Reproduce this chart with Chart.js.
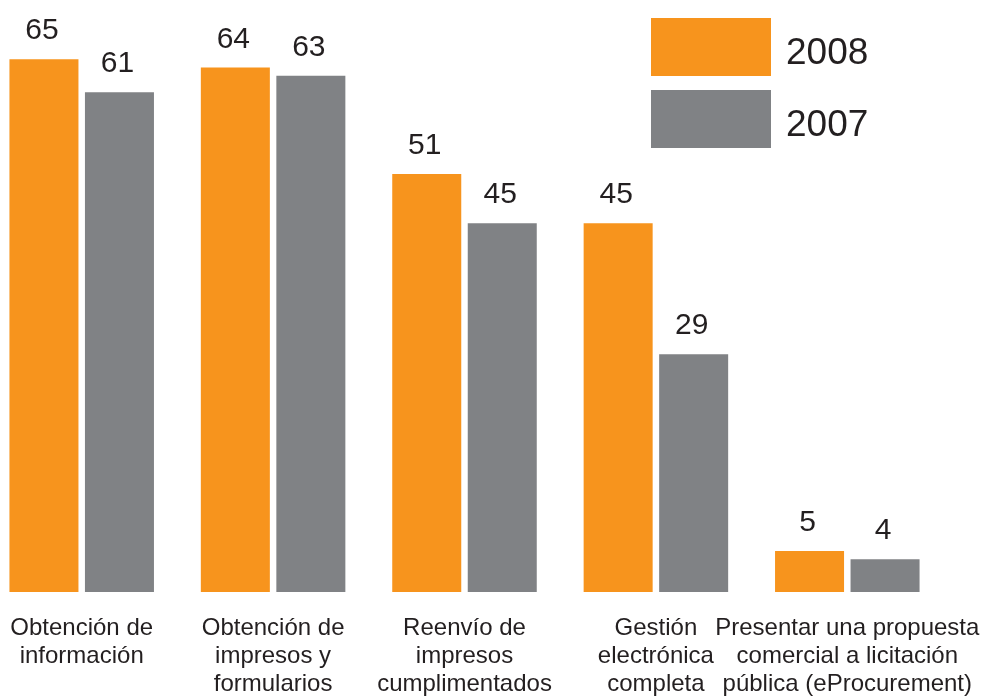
<!DOCTYPE html>
<html>
<head>
<meta charset="utf-8">
<script src="https://cdn.jsdelivr.net/npm/chart.js@4.4.1/dist/chart.umd.min.js"></script>
<style>
  html, body { margin: 0; padding: 0; background: #fff; overflow: hidden; }
  #wrap { position: absolute; left: -14px; top: 0; width: 997px; height: 697px; }
</style>
</head>
<body>
<div id="wrap"><canvas id="mycanvas"></canvas></div>
<script>
var categories = [
  ['Obtención de', 'información'],
  ['Obtención de', 'impresos y', 'formularios'],
  ['Reenvío de', 'impresos', 'cumplimentados'],
  ['Gestión', 'electrónica', 'completa'],
  ['Presentar una propuesta', 'comercial a licitación', 'pública (eProcurement)']
];
var seriesNames = ['2008', '2007'];
var values2008 = [65, 64, 51, 45, 5];
var values2007 = [61, 63, 45, 29, 4];

var orange = '#F7941D';
var grey = '#808285';
var textColor = '#231F20';
var fontFam = '"Liberation Sans", Arial, Helvetica, sans-serif';

// numbers above the bars
var valueLabels = {
  id: 'valueLabels',
  afterDatasetsDraw: function(chart) {
    var ctx = chart.ctx;
    ctx.save();
    ctx.font = '30px ' + fontFam;
    ctx.fillStyle = textColor;
    ctx.textAlign = 'center';
    ctx.textBaseline = 'alphabetic';
    chart.data.datasets.forEach(function(ds, i) {
      chart.getDatasetMeta(i).data.forEach(function(bar, j) {
        ctx.fillText(ds.data[j], bar.x - 2, bar.y - 20);
      });
    });
    ctx.restore();
  }
};

// big square legend at top right
var boxLegend = {
  id: 'boxLegend',
  afterDraw: function(chart) {
    var ctx = chart.ctx;
    ctx.save();
    chart.data.datasets.forEach(function(ds, i) {
      var top = 18 + i * 72;
      ctx.fillStyle = ds.backgroundColor;
      ctx.fillRect(665, top, 120, 58);
      ctx.fillStyle = textColor;
      ctx.font = '37px ' + fontFam;
      ctx.textAlign = 'left';
      ctx.textBaseline = 'alphabetic';
      ctx.fillText(ds.label, 800, top + 46);
    });
    ctx.restore();
  }
};

var chartdata = {
  labels: categories,
  datasets: [
    { label: seriesNames[0], backgroundColor: orange, data: values2008 },
    { label: seriesNames[1], backgroundColor: grey, data: values2007 }
  ]
};

var ctx = document.getElementById('mycanvas');
var barGraph = new Chart(ctx, {
  type: 'bar',
  data: chartdata,
  options: {
    responsive: true,
    maintainAspectRatio: false,
    animation: false,
    layout: { padding: { top: 2, right: 40, left: 0, bottom: 0 } },
    datasets: { bar: { categoryPercentage: 0.789, barPercentage: 0.914 } },
    plugins: {
      legend: { display: false },
      tooltip: { enabled: false }
    },
    scales: {
      x: {
        grid: { display: false, drawTicks: false },
        border: { display: false },
        ticks: {
          color: textColor,
          font: { family: fontFam, size: 24, lineHeight: 1.1667 },
          padding: 22,
          autoSkip: false,
          maxRotation: 0,
          minRotation: 0
        },
        afterFit: function(scale) {
          scale.paddingLeft = 0;
          scale.paddingRight = 0;
          scale.height = 105;
        }
      },
      y: {
        display: false,
        min: 0,
        max: 72
      }
    }
  },
  plugins: [valueLabels, boxLegend]
});
</script>
</body>
</html>
